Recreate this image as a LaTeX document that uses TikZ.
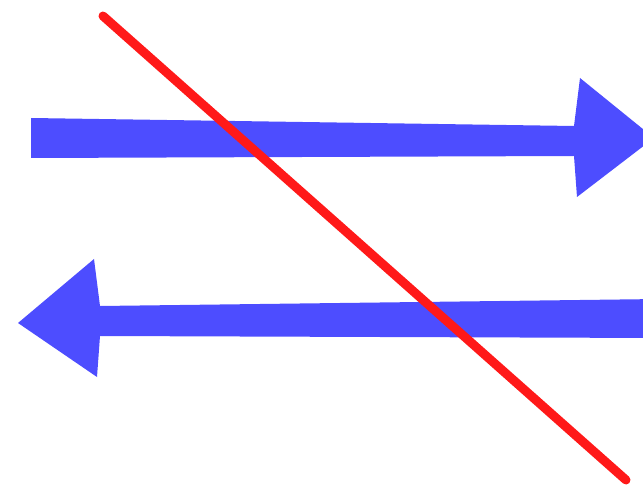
\documentclass[tikz,border=0pt]{standalone}
\begin{document}
\begin{tikzpicture}[x=1pt,y=-1pt,
  bluearrow/.style={fill={rgb,255:red,77;green,77;blue,255}, draw=none},
  redline/.style={draw={rgb,255:red,255;green,25;blue,25}, line width=9pt, line cap=round}]
\useasboundingbox (0,0) rectangle (643,489);
\clip (0,0) rectangle (643,489);
% top arrow pointing right
\fill[bluearrow] (31,118) -- (574,126) -- (580,78) -- (654,138) -- (577,197) -- (574,156) -- (31,158) -- cycle;
% bottom arrow pointing left
\fill[bluearrow] (660,299) -- (100,306) -- (94,259) -- (18,323) -- (97,377) -- (100,336) -- (660,338) -- cycle;
% red crossing line
\coordinate (r1) at (103,16);
\coordinate (r2) at (626,480);
\draw[redline] (r1) -- (r2);
\end{tikzpicture}
\end{document}
